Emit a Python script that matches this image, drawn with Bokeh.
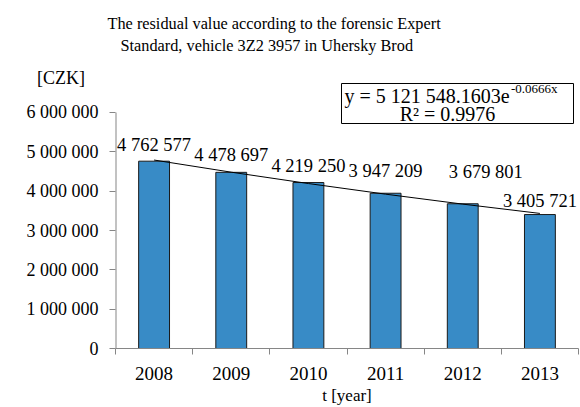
from bokeh.plotting import figure
from bokeh.models import (Range1d, FixedTicker, Label, LabelSet, ColumnDataSource,
                          BoxAnnotation, Title)
from bokeh.embed import file_html
from bokeh.resources import INLINE

# ---- data ----
years = ["2008", "2009", "2010", "2011", "2012", "2013"]
values = [4762577, 4478697, 4219250, 3947209, 3679801, 3405721]
value_labels = ["4 762 577", "4 478 697", "4 219 250", "3 947 209", "3 679 801", "3 405 721"]
# exponential trend (y = 5 121 548.1603 e^-0.0666x)
trend_values = [4791570, 4482800, 4194000, 3923700, 3670900, 3434300]
y_ticks = [0, 1000000, 2000000, 3000000, 4000000, 5000000, 6000000]
y_tick_labels = ["0", "1 000 000", "2 000 000", "3 000 000", "4 000 000", "5 000 000", "6 000 000"]
y_unit = "[CZK]"
title_lines = ["The residual value according to the forensic Expert",
               "Standard, vehicle 3Z2 3957 in Uhersky Brod"]
eq_main = "y = 5 121 548.1603e"
eq_sup = "-0.0666x"
eq_r2 = "R\u00b2 = 0.9976"
x_title = "t [year]"

# ---- style / layout ----
FONT = "Liberation Serif"
BAR = "#388BC6"
AXIS = "#868686"
label_dx = [0, 0, 0, 0, 23, 0]
label_dy = [10, 11, 11, 16, 26, 8]
Y_TOP = 7372881      # value at the top edge of the frame
UNIT_POS = 6889830   # vertical position of the unit caption
UNIT_PAD = "\u00a0\u00a0\u00a0"  # pushes the unit caption left of the tick labels

xs = list(range(1, len(years) + 1))

p = figure(width=580, height=407, output_backend="svg", toolbar_location=None,
           x_range=Range1d(0.5, 6.5), y_range=Range1d(0, Y_TOP),
           min_border_left=115, min_border_right=2, min_border_top=58,
           min_border_bottom=59)
p.outline_line_color = None
p.xgrid.visible = False
p.ygrid.visible = False
p.background_fill_color = "white"
p.border_fill_color = "white"

# titles (later-added title sits further from the plot)
p.add_layout(Title(text=title_lines[1], align="left", offset=5, text_font=FONT,
                   text_font_size="16.3px", text_font_style="normal", text_color="black",
                   standoff=8), "above")
p.add_layout(Title(text=title_lines[0], align="left", offset=-8, text_font=FONT,
                   text_font_size="16.3px", text_font_style="normal", text_color="black",
                   standoff=-6), "above")

p.vbar(x=xs, top=values, width=0.4, fill_color=BAR, line_color="#1a1a1a", line_width=1)
p.line(x=xs, y=trend_values, line_color="black", line_width=1)
# y axis line only up to the last tick
p.segment(x0=[0.5], y0=[y_ticks[0]], x1=[0.5], y1=[y_ticks[-1]], line_color=AXIS, line_width=2)

src = ColumnDataSource(dict(x=xs, y=values, t=value_labels, dx=label_dx, dy=label_dy))
p.add_layout(LabelSet(x="x", y="y", text="t", source=src, x_offset="dx", y_offset="dy",
                      text_align="center", text_baseline="alphabetic",
                      text_font=FONT, text_font_size="18.5px", text_color="black"))

# y axis: labelled (mark-less) major ticks incl. unit caption, marked minor ticks
ya = p.yaxis[0]
ya.ticker = FixedTicker(ticks=y_ticks + [UNIT_POS], minor_ticks=y_ticks)
overrides = {t: l for t, l in zip(y_ticks, y_tick_labels)}
overrides[UNIT_POS] = y_unit + UNIT_PAD
ya.major_label_overrides = overrides
ya.major_label_text_font = FONT
ya.major_label_text_font_size = "18px"
ya.major_label_text_color = "black"
ya.major_tick_out = 0
ya.major_tick_in = 0
ya.minor_tick_out = 6
ya.minor_tick_in = 0
ya.axis_line_color = None
ya.minor_tick_line_color = AXIS
ya.major_label_standoff = 11

# x axis: labels at bar centres, marks at category boundaries
xa = p.xaxis[0]
xa.ticker = FixedTicker(ticks=xs, minor_ticks=[0.5 + i for i in range(len(years) + 1)])
xa.major_label_overrides = {x: y for x, y in zip(xs, years)}
xa.major_label_text_font = FONT
xa.major_label_text_font_size = "19px"
xa.major_label_text_color = "black"
xa.major_tick_out = 0
xa.major_tick_in = 0
xa.minor_tick_out = 6
xa.minor_tick_in = 0
xa.axis_line_color = AXIS
xa.minor_tick_line_color = AXIS
xa.major_label_standoff = 12
xa.axis_label = x_title
xa.axis_label_text_font = FONT
xa.axis_label_text_font_size = "17px"
xa.axis_label_text_font_style = "normal"
xa.axis_label_text_color = "black"
xa.axis_label_standoff = 3

# equation box (inside the frame, screen units from the frame's lower-left corner)
p.add_layout(BoxAnnotation(left=226, right=458, bottom=225, top=265,
                           left_units="screen", right_units="screen",
                           bottom_units="screen", top_units="screen",
                           fill_alpha=0, line_color="black", line_width=1, line_alpha=1))
p.add_layout(Label(x=229, y=253, x_units="screen", y_units="screen", text=eq_main,
                   text_align="left", text_baseline="alphabetic", text_font=FONT,
                   text_font_size="20px", text_color="black"))
p.add_layout(Label(x=442, y=260, x_units="screen", y_units="screen", text=eq_sup,
                   text_align="right", text_baseline="alphabetic", text_font=FONT,
                   text_font_size="13px", text_color="black"))
p.add_layout(Label(x=332, y=235, x_units="screen", y_units="screen", text=eq_r2,
                   text_align="center", text_baseline="alphabetic", text_font=FONT,
                   text_font_size="20px", text_color="black"))

open("out.html", "w").write(file_html(p, INLINE))
